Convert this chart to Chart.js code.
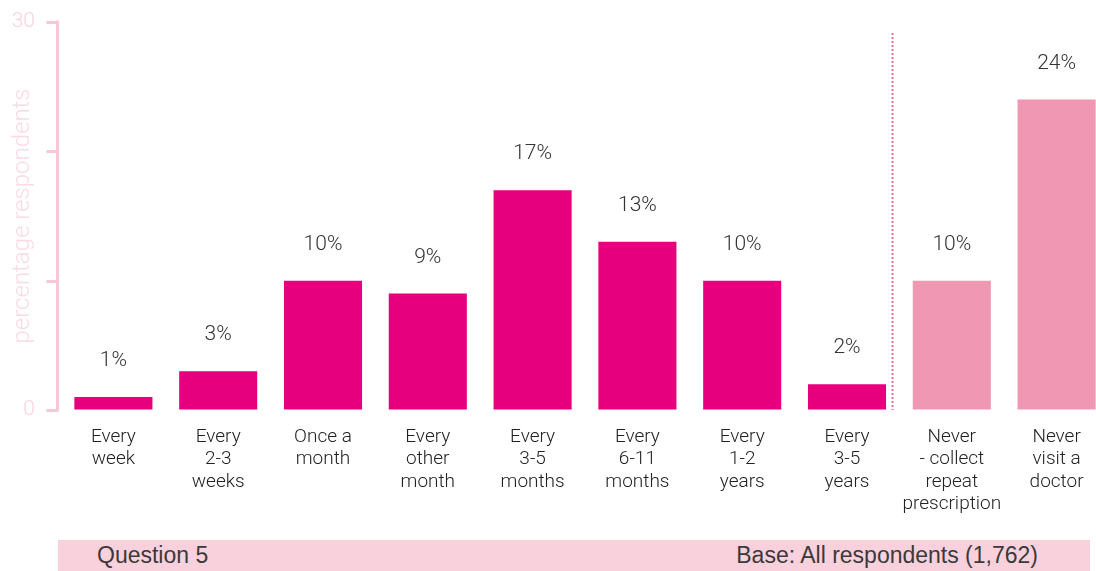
<!DOCTYPE html>
<html>
<head>
<meta charset="utf-8">
<script src="https://cdn.jsdelivr.net/npm/chart.js@4/dist/chart.umd.min.js"></script>
<style>
  html, body { margin: 0; padding: 0; background: #fff; overflow: hidden; }
  #wrap { position: relative; width: 1096px; height: 571px; overflow: hidden; }
  #box { position: absolute; left: 0; top: 0; width: 1112px; height: 530px; }
  #foot {
    position: absolute; left: 58px; top: 540px; width: 1032px; height: 31px;
    background: #f9d1dd; color: #3a3a3a;
    font-family: "Liberation Sans", Arial, sans-serif;
    font-size: 23px; line-height: 31px;
  }
  #foot .l { position: absolute; left: 39px; }
  #foot .r { position: absolute; right: 52px; }
</style>
</head>
<body>
<div id="wrap">
  <div id="box"><canvas id="barChart"></canvas></div>
  <div id="foot"><span class="l">Question 5</span><span class="r">Base: All respondents (1,762)</span></div>
</div>
<script>
const categories = [
  ['Every', 'week'],
  ['Every', '2-3', 'weeks'],
  ['Once a', 'month'],
  ['Every', 'other', 'month'],
  ['Every', '3-5', 'months'],
  ['Every', '6-11', 'months'],
  ['Every', '1-2', 'years'],
  ['Every', '3-5', 'years'],
  ['Never', '- collect', 'repeat', 'prescription'],
  ['Never', 'visit a', 'doctor']
];
const values = [1, 3, 10, 9, 17, 13, 10, 2, 10, 24];
const yTicks = [0, 10, 20, 30];
const yLabels = ['0', '', '', '30'];

const barColors = values.map((v, i) => i < 8 ? '#e6007e' : '#f097b3');

// y axis line with ticks, value labels above bars, dotted divider
const extras = {
  id: 'extras',
  beforeDatasetsDraw(chart) {
    const ctx = chart.ctx;
    const y = chart.scales.y;
    const ax = chart.chartArea.left - 3.5;
    ctx.save();
    ctx.strokeStyle = '#f8c8d8';
    ctx.lineWidth = 3;
    ctx.beginPath();
    ctx.moveTo(ax, y.getPixelForValue(30) - 1.5);
    ctx.lineTo(ax, y.getPixelForValue(0) + 1.5);
    yTicks.forEach(v => {
      const py = Math.round(y.getPixelForValue(v)) + 0.5;
      ctx.moveTo(ax - 11, py);
      ctx.lineTo(ax, py);
    });
    ctx.stroke();
    ctx.restore();
  },
  afterDatasetsDraw(chart) {
    const ctx = chart.ctx;
    const meta = chart.getDatasetMeta(0);
    ctx.save();
    ctx.fillStyle = '#333';
    ctx.font = '300 21px Roboto, "Liberation Sans", sans-serif';
    ctx.textAlign = 'center';
    ctx.textBaseline = 'middle';
    meta.data.forEach((bar, i) => {
      ctx.fillText(values[i] + '%', bar.x, bar.y - 36);
    });
    const x = chart.scales.x;
    const step = x.getPixelForValue(8) - x.getPixelForValue(7);
    const lx = Math.round(x.getPixelForValue(7) + step * 0.43) + 0.5;
    ctx.strokeStyle = '#ec6fa0';
    ctx.lineWidth = 2;
    ctx.setLineDash([2, 2]);
    ctx.beginPath();
    ctx.moveTo(lx, 33);
    ctx.lineTo(lx, chart.chartArea.bottom);
    ctx.stroke();
    ctx.restore();
  }
};

const ctx1 = document.getElementById('barChart').getContext('2d');

new Chart(ctx1, {
  type: 'bar',
  data: {
    labels: categories,
    datasets: [{
      data: values,
      backgroundColor: barColors,
      barPercentage: 0.745,
      categoryPercentage: 1
    }]
  },
  options: {
    responsive: true,
    maintainAspectRatio: false,
    animation: false,
    layout: { padding: { top: 22, right: 3, left: 0, bottom: 0 } },
    plugins: { legend: { display: false }, tooltip: { enabled: false } },
    scales: {
      x: {
        grid: { display: false, drawTicks: false },
        border: { display: false },
        ticks: {
          color: '#222',
          padding: 16,
          maxRotation: 0,
          autoSkip: false,
          font: { family: 'Roboto, "Liberation Sans", sans-serif', size: 19, weight: 300, lineHeight: 1.18 }
        },
        afterFit(scale) { scale.height = 120; }
      },
      y: {
        min: 0,
        max: 30,
        afterBuildTicks(scale) { scale.ticks = yTicks.map(v => ({ value: v })); },
        // ticks are drawn by the plugin; transparent marks only space the labels
        grid: { display: true, drawOnChartArea: false, drawTicks: true, tickLength: 26, tickColor: 'rgba(0,0,0,0)' },
        border: { display: false },
        ticks: {
          color: '#f9d3de',
          padding: 0,
          font: { family: 'Roboto, "Liberation Sans", sans-serif', size: 21, weight: 300 },
          callback(v, i) { return yLabels[i]; }
        },
        title: {
          display: true,
          text: 'percentage respondents',
          color: '#fadbe4',
          padding: { top: 9, bottom: 0 },
          font: { family: 'Roboto, "Liberation Sans", sans-serif', size: 24, weight: 300 }
        },
        afterFit(scale) { scale.width = 61; }
      }
    }
  },
  plugins: [extras]
});
</script>
</body>
</html>
